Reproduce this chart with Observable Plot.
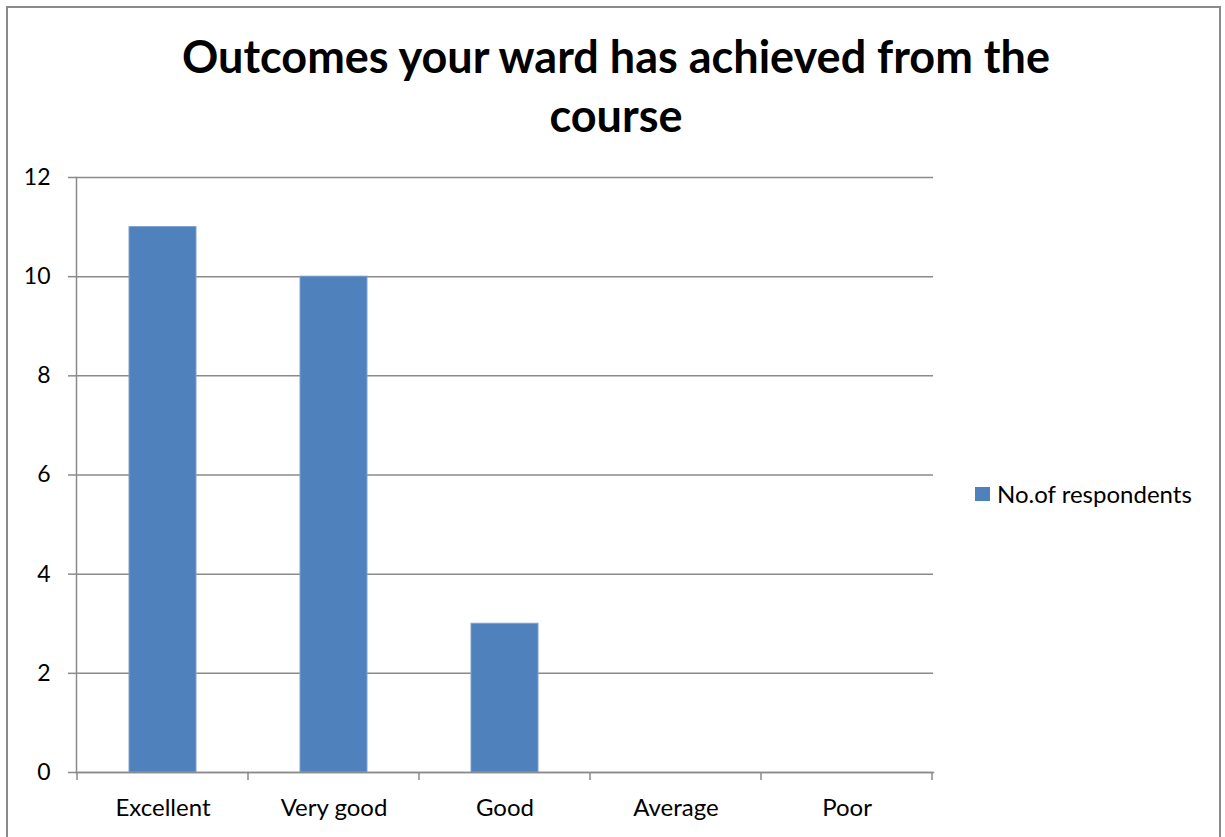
<!DOCTYPE html>
<html>
<head>
<meta charset="utf-8">
<script src="https://cdn.jsdelivr.net/npm/d3@7"></script>
<script src="https://cdn.jsdelivr.net/npm/@observablehq/plot@0.6"></script>
<style>
  html, body { margin: 0; padding: 0; background: #fff; }
  #wrap { position: relative; width: 1225px; height: 837px; overflow: hidden; font-family: Lato, "Open Sans", sans-serif; }
  #frame { position: absolute; left: 6px; top: 6px; width: 1215px; height: 860px; border: 2px solid #8a8a8a; box-sizing: border-box; }
  #title { position: absolute; left: 0; width: 1232px; top: 27px; text-align: center; font-weight: bold; font-size: 45px; line-height: 59px; color: #000; }
  #legend { position: absolute; left: 975px; top: 479px; display: flex; align-items: center; font-size: 24px; color: #000; }
  #legend .sw { width: 15px; height: 14px; background: #4F81BD; margin-right: 7px; }
  #chart { position: absolute; left: 0; top: 0; }
</style>
</head>
<body>
<div id="wrap">
  <div id="frame"></div>
  <div id="chart"></div>
  <div id="title">Outcomes your ward has achieved from the<br>course</div>
  <div id="legend"><div class="sw"></div><span id="legendText"></span></div>
</div>
<script>
const categories = ["Excellent", "Very good", "Good", "Average", "Poor"];
const respondents = [11, 10, 3, 0, 0];
const yTicks = [0, 2, 4, 6, 8, 10, 12];
const seriesName = "No.of respondents";

const data = categories.map((c, i) => ({category: c, value: respondents[i]}));
document.getElementById("legendText").textContent = seriesName;

const gray = "#8a8a8a";
const chart = Plot.plot({
  width: 1225,
  height: 837,
  marginLeft: 76,
  marginRight: 292,
  marginTop: 177,
  marginBottom: 65,
  style: {fontFamily: "Lato, 'Open Sans', sans-serif", background: "transparent", color: "#000"},
  x: {domain: categories, paddingInner: 0.61, paddingOuter: 0.305, align: 0.5, label: null},
  y: {domain: [0, 12], label: null},
  marks: [
    Plot.gridY(yTicks, {stroke: gray, strokeOpacity: 1, strokeWidth: 1.5}),
    Plot.barY(data, {x: "category", y: "value", fill: "#4F81BD", stroke: "#7f9fce", strokeWidth: 1}),
    Plot.axisY(yTicks, {tickSize: 8, tickPadding: 18, fontSize: 23, stroke: gray, strokeWidth: 1.5, tickFormat: d => String(d), label: null}),
    Plot.axisX({tickSize: 0, tickPadding: 26, fontSize: 24, label: null}),
    Plot.frame({anchor: "left", stroke: gray, strokeWidth: 1.5}),
    Plot.frame({anchor: "bottom", stroke: gray, strokeWidth: 1.5})
  ]
});
document.getElementById("chart").appendChild(chart);

// category boundary ticks below the x axis, derived from the band scale
const xs = chart.scale("x");
const ys = chart.scale("y");
const step = xs.step;
const y0 = ys.apply(0);
const bounds = categories.map(c => xs.apply(c) + xs.bandwidth / 2 - step / 2);
bounds.push(xs.apply(categories[categories.length - 1]) + xs.bandwidth / 2 + step / 2);
d3.select(chart).append("g")
  .selectAll("line").data(bounds).join("line")
  .attr("x1", d => d).attr("x2", d => d)
  .attr("y1", y0).attr("y2", y0 + 8)
  .attr("stroke", gray).attr("stroke-width", 1.5);
</script>
</body>
</html>
